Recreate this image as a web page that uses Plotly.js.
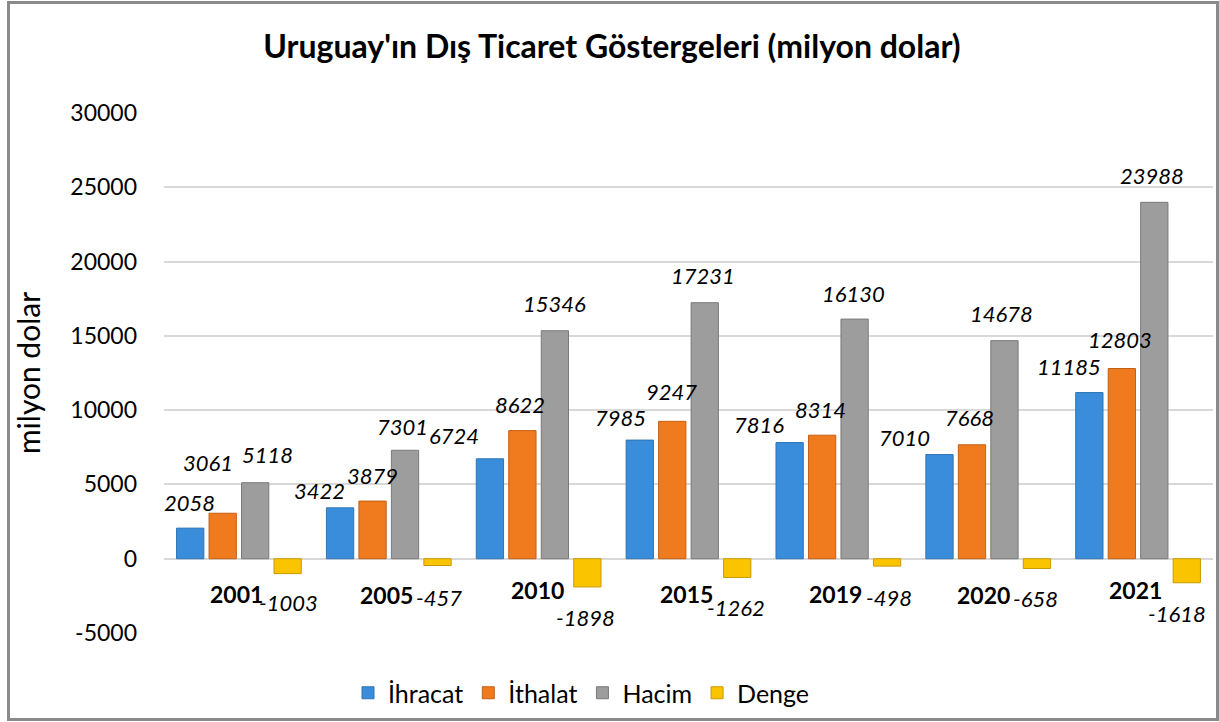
<!DOCTYPE html>
<html>
<head>
<meta charset="utf-8">
<script src="https://cdn.plot.ly/plotly-3.0.1.min.js"></script>
<style>
  html, body { margin: 0; padding: 0; background: #fff; }
  #wrap { position: relative; width: 1219px; height: 722px; }
  #chart { width: 1219px; height: 722px; }
  #frame { position: absolute; left: 7px; top: 1px; width: 1206px; height: 714px;
           border: 3px solid #8a8a8a; pointer-events: none; }
</style>
</head>
<body>
<div id="wrap"><div id="chart"></div><div id="frame"></div></div>
<script>
// ---- data ----
const categories = ['2001', '2005', '2010', '2015', '2019', '2020', '2021'];
const seriesNames = ['İhracat', 'İthalat', 'Hacim', 'Denge'];
const ihracat = [2058, 3422, 6724, 7985, 7816, 7010, 11185];
const ithalat = [3061, 3879, 8622, 9247, 8314, 7668, 12803];
const hacim   = [5118, 7301, 15346, 17231, 16130, 14678, 23988];
const denge   = [-1003, -457, -1898, -1262, -498, -658, -1618];
const yTicks  = [-5000, 0, 5000, 10000, 15000, 20000, 25000, 30000];

// ---- styling / label placement (pixels) ----
const colors   = ['#3a8ddb', '#f07a1e', '#9d9d9d', '#fbc400'];
const edges    = ['#2e74b5', '#c55f14', '#7a7a7a', '#c99a00'];
const labelDx = [
  [-0.5, -20.5, -35.5, -19.5, -30.5, -34.5, -20.5],
  [-15, 0, -2, -1, -2, -2, -2],
  [12.5, -2.5, 0, -1.5, -1.5, -2.5, -2.5],
  [0.5, 1.5, -1.5, -1.5, 1.5, -1.5, -9.5]
];
const labelDy = [
  [26, 17.5, 23.6, 23, 18, 17, 26],
  [51, 26, 26, 30, 26, 27, 29],
  [28, 24, 27.7, 27, 26, 27, 27],
  [29, 32, 30.6, 30, 31, 30, 31]
];
const catDx = [-2.5, -2.5, -1.5, -2.5, -2.5, -4.5, -2.5];
const catDy = [35.7, 36.7, 31.7, 35.7, 35.7, 36.7, 31.7];

const FONT = 'Lato, "Open Sans", sans-serif';
const margin = { l: 164, r: 6, t: 113, b: 89 };
const bargap = 0.133, bargroupgap = 0.16;
const plotW = 1219 - margin.l - margin.r;
const catW = plotW / categories.length;
const slotW = catW * (1 - bargap) / seriesNames.length;
const slotOff = seriesNames.map((_, s) => (s - (seriesNames.length - 1) / 2) * slotW);

const values = [ihracat, ithalat, hacim, denge];

const traces = values.map((vals, s) => ({
  type: 'bar',
  name: seriesNames[s],
  x: categories,
  y: vals,
  marker: { color: colors[s], line: { color: edges[s], width: 1 } },
  hoverinfo: 'x+y+name'
}));

const annotations = [];
values.forEach((vals, s) => {
  vals.forEach((v, i) => {
    const sign = v >= 0 ? 1 : -1;
    annotations.push({
      x: i, y: v, xref: 'x', yref: 'y',
      text: String(v), showarrow: false,
      xanchor: 'center', yanchor: 'middle',
      xshift: slotOff[s] + labelDx[s][i],
      yshift: sign * labelDy[s][i],
      font: { family: FONT, size: 22, color: '#000', style: 'italic' }
    });
  });
});
categories.forEach((c, i) => {
  annotations.push({
    x: i, y: 0, xref: 'x', yref: 'y',
    text: c, showarrow: false,
    xanchor: 'center', yanchor: 'middle',
    xshift: catDx[i], yshift: -catDy[i],
    font: { family: FONT, size: 23, color: '#000', weight: 'bold' }
  });
});

const layout = {
  width: 1219, height: 722,
  margin: margin,
  paper_bgcolor: '#ffffff', plot_bgcolor: '#ffffff',
  font: { family: FONT, size: 22, color: '#000' },
  title: {
    text: "Uruguay'ın Dış Ticaret Göstergeleri (milyon dolar)",
    font: { family: FONT, size: 32, color: '#000', weight: 'bold' },
    xref: 'container', yref: 'container', x: 0.502, y: 1 - 47 / 722,
    xanchor: 'center', yanchor: 'middle'
  },
  barmode: 'group', bargap: bargap, bargroupgap: bargroupgap,
  xaxis: {
    type: 'category', range: [-0.5, categories.length - 0.5],
    showticklabels: false, showgrid: false,
    zeroline: false, showline: false, ticks: ''
  },
  yaxis: {
    range: [-5000, 30000], tickvals: yTicks, ticktext: yTicks.map(String),
    showgrid: true, gridcolor: '#d9d9d9', gridwidth: 2,
    zeroline: true, zerolinecolor: '#d9d9d9', zerolinewidth: 2,
    showline: false, ticks: '', ticklabelstandoff: 26,
    tickfont: { family: FONT, size: 23, color: '#000' },
    title: { text: 'milyon dolar', standoff: 20, font: { family: FONT, size: 30, color: '#000' } }
  },
  legend: {
    orientation: 'h', x: (348 - margin.l) / plotW, xanchor: 'left',
    y: (633 - 693) / 520, yanchor: 'middle',
    font: { family: FONT, size: 25, color: '#000' },
    itemwidth: 30, traceorder: 'normal', bgcolor: 'rgba(0,0,0,0)'
  },
  annotations: annotations,
  showlegend: true
};

Plotly.newPlot('chart', traces, layout, { displayModeBar: false, staticPlot: true });
</script>
</body>
</html>
